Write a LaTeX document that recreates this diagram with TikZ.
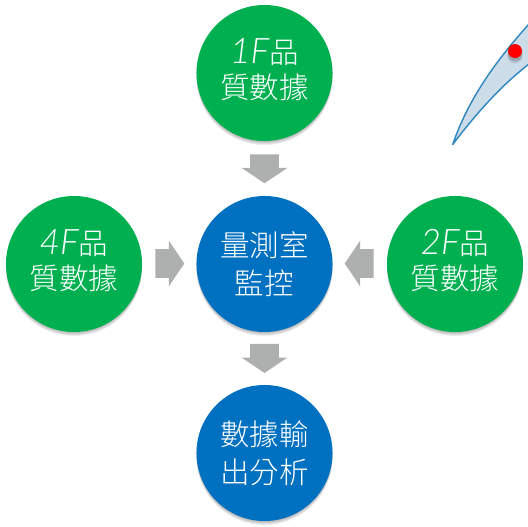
\documentclass[tikz,border=0pt]{standalone}
\usepackage{fontspec}
\setmainfont{Noto Sans CJK TC Light}
\newfontfamily\latinfont{Lato Light}
\usetikzlibrary{arrows,shapes,positioning}
\definecolor{cgreen}{RGB}{0,176,80}
\definecolor{cblue}{RGB}{0,112,192}
\definecolor{cgray}{RGB}{174,176,175}
\definecolor{cedge}{RGB}{46,134,188}
\definecolor{cpale}{RGB}{205,220,233}
\tikzset{
    x=0.025cm, y=-0.025cm,
    disc/.style={circle, minimum size=3.4cm, inner sep=0pt, text=white, align=center,
        font=\fontsize{21}{27}\selectfont},
    blockarrow/.style={single arrow, fill=cgray, anchor=tail, inner xsep=0pt, inner ysep=0.35cm,
        minimum height=0.725cm, minimum width=1.13cm, single arrow head extend=0.215cm,
        single arrow tip angle=112, rotate=#1},
}
\newcommand{\Fl}[1]{{\fontsize{25}{27}\latinfont\itshape #1}}
\newcommand{\Lift}{\\[-21pt]\mbox{}}
\begin{document}
\begin{tikzpicture}
    \useasboundingbox (0,0) rectangle (528,527);
    \clip (0,0) rectangle (528,527);

    % crescent
    \draw[cedge, fill=cpale, line width=1pt, line join=round] (452.7,144.5)
        .. controls (468,100) and (495,60) .. (540,12)
        -- (540,56) .. controls (505,80) and (475,115) .. cycle;
    \foreach \d in {2,3,4,5} {
        \fill[black, opacity=.07] (515,51+\d) circle (7.5);
    }
    \node[circle, fill=red, minimum size=0.35cm, inner sep=0pt] (dot) at (515,51) {};

    % soft shadows
    \foreach \cx/\cy in {264.5/73, 74/264, 455/264, 264.5/264, 264.5/453} {
        \foreach \d in {1,2,3,4} {
            \fill[black, opacity=.07] (\cx,\cy+\d) circle (1.7cm);
        }
    }

    \node[disc, fill=cgreen] (floor1) at (264.5,73) {\Fl{1F}品\\[-2pt]質數據\Lift};
    \node[disc, fill=cgreen] (floor4) at (74,264) {\Fl{4F}品\\[-2pt]質數據\Lift};
    \node[disc, fill=cgreen] (floor2) at (455,264) {\Fl{2F}品\\[-2pt]質數據\Lift};
    \node[disc, fill=cblue] (monitor) at (264.5,264) {量測室\\監控};
    \node[disc, fill=cblue] (output) at (264.5,453) {數據輸\\出分析};

    \node[blockarrow=-90] (a1) at (264.5,154) {};
    \node[blockarrow=0] (a4) at (155,263.5) {};
    \node[blockarrow=180] (a2) at (374,263.5) {};
    \node[blockarrow=-90] (a3) at (264.5,343.7) {};
\end{tikzpicture}
\end{document}
